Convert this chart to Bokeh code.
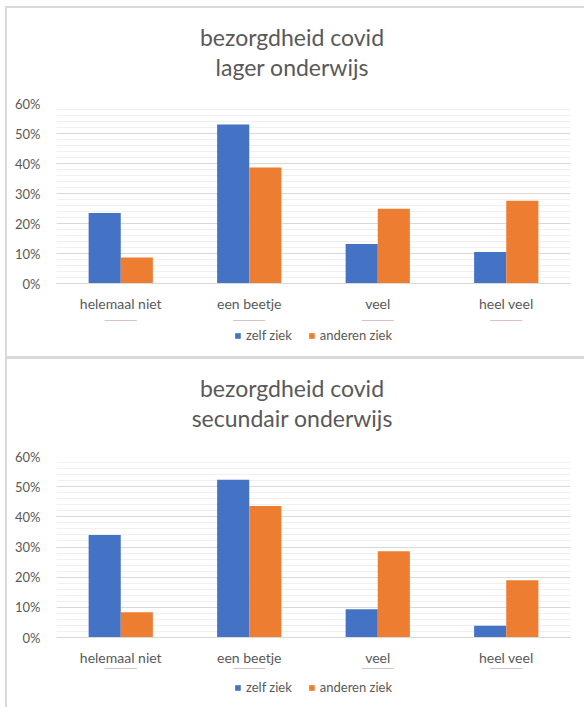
from bokeh.plotting import figure
from bokeh.models import (FactorRange, NumeralTickFormatter, Legend, LegendItem,
                          FixedTicker, ColumnDataSource, Div)
from bokeh.transform import dodge
from bokeh.layouts import column
from bokeh.embed import file_html
from bokeh.resources import INLINE

categories = ["helemaal niet", "een beetje", "veel", "heel veel"]
series_names = ["zelf ziek", "anderen ziek"]
lager_zelf = [0.235, 0.530, 0.132, 0.105]
lager_anderen = [0.087, 0.387, 0.249, 0.276]
secundair_zelf = [0.340, 0.523, 0.094, 0.039]
secundair_anderen = [0.084, 0.436, 0.286, 0.190]
y_ticks = [0.0, 0.1, 0.2, 0.3, 0.4, 0.5, 0.6]
minor_ticks = [i / 50 for i in range(31)]
titles = [("bezorgdheid covid", "lager onderwijs"), ("bezorgdheid covid", "secundair onderwijs")]

BLUE = "#4472C4"
ORANGE = "#ED7D31"
TXT = "#595959"
FONT = "Lato"


def make_title(lines, height, pad_top):
    html = (f'<div style="font-family: {FONT}, sans-serif; font-size: 23px; color: {TXT}; '
            f'text-align: center; line-height: 30px; width: 568px; padding-left: 16px; '
            f'padding-top: {pad_top}px; white-space: nowrap;">'
            f'{lines[0]}<br>{lines[1]}</div>')
    return Div(text=html, width=584, height=height, margin=0)


def make_chart(src, height, top, bottom):
    p = figure(width=584, height=height, x_range=FactorRange(*categories), y_range=(0, 0.6),
               output_backend="svg", toolbar_location=None,
               min_border_left=56, min_border_right=11, min_border_top=top, min_border_bottom=bottom)
    p.border_fill_color = None
    p.background_fill_color = None
    p.vbar(x=dodge("cat", -0.125, range=p.x_range), top="zelf", width=0.25, source=src,
           fill_color=BLUE, line_color=None)
    p.vbar(x=dodge("cat", 0.125, range=p.x_range), top="anderen", width=0.25, source=src,
           fill_color=ORANGE, line_color=None)
    p.outline_line_color = None
    p.xgrid.grid_line_color = None
    p.ygrid.grid_line_color = "#d9d9d9"
    p.ygrid.minor_grid_line_color = "#f0f0f0"
    p.yaxis.ticker = FixedTicker(ticks=y_ticks, minor_ticks=minor_ticks)
    p.yaxis.formatter = NumeralTickFormatter(format="0%")
    p.yaxis.axis_line_color = None
    p.yaxis.major_tick_line_color = None
    p.yaxis.minor_tick_line_color = None
    p.yaxis.major_label_standoff = 10
    p.xaxis.axis_line_color = "#d9d9d9"
    p.xaxis.major_tick_line_color = None
    p.xaxis.minor_tick_line_color = None
    p.xaxis.major_label_standoff = 5
    p.xaxis.major_label_text_font_size = "14px"
    p.yaxis.major_label_text_font_size = "13px"
    for ax in (p.xaxis, p.yaxis):
        ax.major_label_text_font = FONT
        ax.major_label_text_color = TXT
    return p


def make_legend(src, height, top_margin):
    lp = figure(width=584, height=height, x_range=FactorRange(*categories), y_range=(-20, -10),
                output_backend="svg", toolbar_location=None,
                x_axis_type=None, y_axis_type=None,
                min_border_left=0, min_border_right=14, min_border_top=0, min_border_bottom=0)
    lp.border_fill_color = None
    lp.background_fill_color = None
    lp.outline_line_color = None
    lp.grid.visible = False
    # zero-height bars: only their legend swatches are shown
    r1 = lp.vbar(x="cat", bottom="zelf", top="zelf", width=0.25, source=src,
                 fill_color=BLUE, line_color=None)
    r2 = lp.vbar(x="cat", bottom="anderen", top="anderen", width=0.25, source=src,
                 fill_color=ORANGE, line_color=None)
    legend = Legend(items=[LegendItem(label=series_names[0], renderers=[r1]),
                           LegendItem(label=series_names[1], renderers=[r2])],
                    orientation="horizontal", location="top_center",
                    label_text_font=FONT, label_text_font_size="13px", label_text_color=TXT,
                    glyph_width=7, glyph_height=7, label_standoff=5, spacing=16,
                    border_line_color=None, background_fill_alpha=0,
                    padding=2, margin=top_margin)
    lp.add_layout(legend)
    return lp


src1 = ColumnDataSource(dict(cat=categories, zelf=lager_zelf, anderen=lager_anderen))
src2 = ColumnDataSource(dict(cat=categories, zelf=secundair_zelf, anderen=secundair_anderen))

d1 = make_title(titles[0], 82, 22)
p1 = make_chart(src1, 238, 21, 37)
l1 = make_legend(src1, 38, 7)
d2 = make_title(titles[1], 80, 15)
p2 = make_chart(src2, 230, 18, 31)
l2 = make_legend(src2, 39, 11)

g = "linear-gradient(#d9d9d9, #d9d9d9)"
frame_bg = (f"{g} 5px 6px / 2px 701px no-repeat, "
            f"{g} 5px 6px / 579px 2px no-repeat, "
            f"{g} 5px 356px / 579px 3px no-repeat, #ffffff")
p = column(d1, p1, l1, d2, p2, l2, spacing=0, styles={"background": frame_bg})
open("out.html", "w").write(file_html(p, INLINE))
